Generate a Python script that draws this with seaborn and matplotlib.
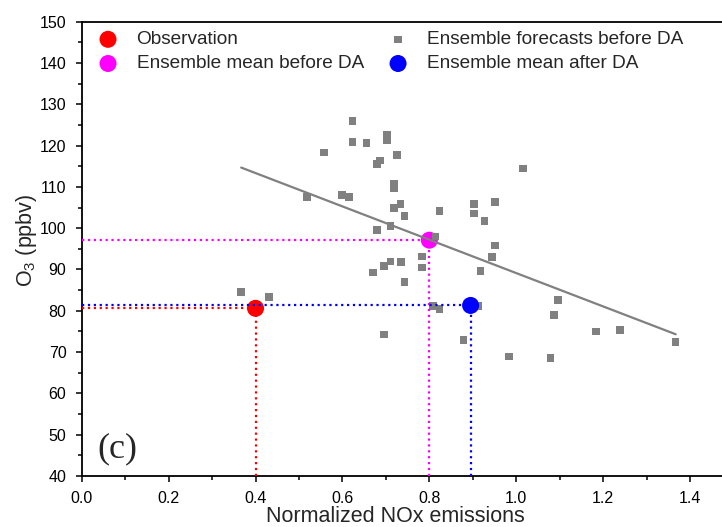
import matplotlib
matplotlib.use("Agg")
import matplotlib.pyplot as plt
from matplotlib.ticker import MultipleLocator, FormatStrFormatter
import seaborn as sns
import pandas as pd

# Ensemble forecasts before data assimilation (normalized NOx emission, O3 in ppbv)
ens_x = [0.623, 0.623, 0.655, 0.558, 0.703, 0.703, 0.726, 0.687, 0.679, 0.719,
         0.719, 0.519, 0.599, 0.615, 0.734, 0.719, 0.743, 0.823, 0.903, 0.903,
         0.951, 0.927, 0.679, 0.711, 0.814, 0.951, 0.944, 0.783, 0.783, 0.711,
         0.735, 0.695, 0.670, 0.918, 0.743, 0.808, 0.823, 0.913, 1.096, 1.087,
         0.695, 0.879, 0.983, 1.079, 1.183, 1.239, 1.367, 1.015, 0.367, 0.431]
ens_y = [126.0, 120.8, 120.6, 118.3, 122.5, 121.2, 117.7, 116.4, 115.5, 110.7,
         109.7, 107.6, 108.0, 107.6, 105.8, 104.9, 103.0, 104.1, 105.8, 103.6,
         106.3, 101.8, 99.6, 100.5, 98.0, 95.8, 93.0, 93.1, 90.5, 91.9,
         91.8, 90.8, 89.3, 89.7, 86.9, 81.2, 80.4, 81.2, 82.6, 79.0,
         74.3, 72.9, 68.9, 68.5, 75.0, 75.3, 72.5, 114.5, 84.55, 83.3]

obs_x, obs_y = 0.40, 80.6
prior_mean_x, prior_mean_y = 0.80, 97.1
post_mean_x, post_mean_y = 0.895, 81.3

labels = ["Observation", "Ensemble mean before DA",
          "Ensemble forecasts before DA", "Ensemble mean after DA"]

x_lim = (0.0, 1.5)
y_lim = (40, 150)

sns.set_theme(style="ticks")
plt.rcParams["font.family"] = ["Liberation Sans", "DejaVu Sans"]
plt.rcParams["mathtext.default"] = "regular"

ens = pd.DataFrame({"nox": ens_x, "o3": ens_y})

fig = plt.figure(figsize=(7.22, 5.27), dpi=100)
ax = fig.add_axes([0.1132, 0.0968, 0.9027, 0.862])

big = 150
sns.scatterplot(x=[obs_x], y=[obs_y], color="#ff0000", s=big, edgecolor="none",
                label=labels[0], ax=ax, zorder=3)
sns.scatterplot(x=[prior_mean_x], y=[prior_mean_y], color="#ff00ff", s=big,
                edgecolor="none", label=labels[1], ax=ax, zorder=3)
sns.scatterplot(data=ens, x="nox", y="o3", marker="s", color="#808080", s=30,
                edgecolor="none", label=labels[2], ax=ax, zorder=4)
sns.regplot(data=ens, x="nox", y="o3", scatter=False, ci=None, ax=ax,
            color="#808080", line_kws={"lw": 1.6, "zorder": 5})
sns.scatterplot(x=[post_mean_x], y=[post_mean_y], color="#0000ff", s=big,
                edgecolor="none", label=labels[3], ax=ax, zorder=6)

# Dotted guide lines down to the axes
for gx, gy, c in [(obs_x, obs_y, "#ff0000"), (prior_mean_x, prior_mean_y, "#ff00ff"),
                  (post_mean_x, post_mean_y, "#0000ff")]:
    ax.hlines(gy, x_lim[0], gx, colors=c, linestyles=":", lw=1.6, zorder=7)
    ax.vlines(gx, y_lim[0], gy, colors=c, linestyles=":", lw=1.6, zorder=7)

ax.set_xlim(*x_lim)
ax.set_ylim(*y_lim)
ax.xaxis.set_major_locator(MultipleLocator(0.2))
ax.xaxis.set_minor_locator(MultipleLocator(0.1))
ax.xaxis.set_major_formatter(FormatStrFormatter("%.1f"))
ax.yaxis.set_major_locator(MultipleLocator(10))
ax.yaxis.set_minor_locator(MultipleLocator(5))
ax.tick_params(which="major", direction="out", length=4.5, width=1.1,
               labelsize=11.5, pad=6.5, color="black", labelcolor="black")
ax.tick_params(which="minor", direction="out", length=2.9, width=1.1, color="black")
for side in ["left", "bottom", "top", "right"]:
    ax.spines[side].set_linewidth(1.3)
    ax.spines[side].set_color("black")

ax.set_xlabel("Normalized NOx emissions", fontsize=15.5)
ax.set_ylabel("O$_3$ (ppbv)", fontsize=15.5)
ax.xaxis.set_label_coords(0.4807, -0.066)
ax.yaxis.set_label_coords(-0.066, 0.519)

ax.text(0.081, 46.6, "(c)", fontsize=26, family=["Liberation Serif"],
        ha="center", va="center")

handles, labs = ax.get_legend_handles_labels()
order = [labs.index(l) for l in labels]
ax.legend([handles[i] for i in order], [labs[i] for i in order], ncol=2,
          frameon=False, fontsize=13.7, loc="upper left",
          bbox_to_anchor=(98.5 / 722, 1 - 31 / 527), bbox_transform=fig.transFigure,
          borderpad=0, borderaxespad=0, handlelength=1.0, handletextpad=1.0,
          columnspacing=1.3, labelspacing=0.36)

fig.savefig("out.png", dpi=100)
